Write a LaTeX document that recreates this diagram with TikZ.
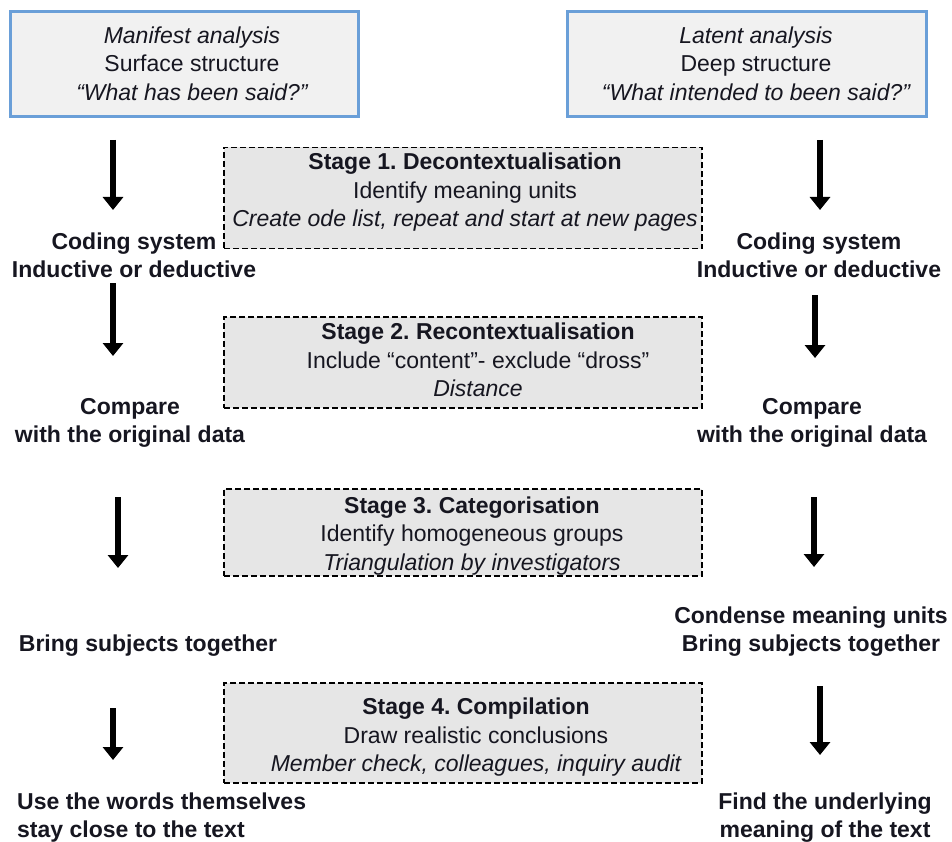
\documentclass[tikz,border=0pt]{standalone}
\usepackage{fontspec}
\setmainfont{Liberation Sans}
\usetikzlibrary{arrows.meta}
\definecolor{boxblue}{HTML}{6A9FD8}
\definecolor{topfill}{HTML}{F1F1F1}
\definecolor{stagefill}{HTML}{E6E6E6}
\definecolor{inkcol}{HTML}{161620}
\frenchspacing
\begin{document}
\begin{tikzpicture}[x=1pt,y=-1pt,
  topbox/.style={draw=boxblue,line width=3pt,fill=topfill,inner sep=0pt,minimum height=105pt},
  stagebox/.style={draw=black,line width=1.1pt,dash pattern=on 6pt off 3pt,fill=stagefill,inner sep=0pt,minimum width=478pt},
  plaintext/.style={align=center,font=\fontsize{23}{28.5}\selectfont,text=inkcol,inner sep=0pt},
  boldtext/.style={align=center,font=\fontsize{23}{28}\selectfont\bfseries,text=inkcol,inner sep=0pt},
  arr/.style={line width=5.5pt,draw=black,-{Triangle[width=20pt,length=13pt]}}]
\useasboundingbox (0,0) rectangle (952,842);

% top boxes
\node[topbox,minimum width=348pt] (topL) at (184,64.5) {};
\node[plaintext] (topLt) at (192,63.5) {\itshape Manifest analysis\\Surface structure\\\itshape “What has been said?”};
\node[topbox,minimum width=359pt] (topR) at (746.5,64.5) {};
\node[plaintext] (topRt) at (756,63.5) {\itshape Latent analysis\\Deep structure\\\itshape “What intended to been said?”};

% stage boxes
\node[stagebox,minimum height=101pt] (s1) at (463,198) {};
\node[plaintext] (s1t) at (465,192.5) {\bfseries Stage 1. Decontextualisation\\Identify meaning units\\\itshape Create ode list, repeat and start at new pages};
\node[stagebox,minimum height=91pt] (s2) at (463,362.5) {};
\node[plaintext] (s2t) at (478,360) {\bfseries Stage 2. Recontextualisation\\Include “content”- exclude “dross”\\\itshape Distance};
\node[stagebox,minimum height=87pt] (s3) at (463,532.5) {};
\node[plaintext] (s3t) at (472,536) {\bfseries Stage 3. Categorisation\\Identify homogeneous groups\\\itshape Triangulation by investigators};
\node[stagebox,minimum height=100pt] (s4) at (463,733) {};
\node[plaintext] (s4t) at (476,737.5) {\bfseries Stage 4. Compilation\\Draw realistic conclusions\\\itshape Member check, colleagues, inquiry audit};

% left column
\node[boldtext] (l1) at (134,255) {Coding system\\Inductive or deductive};
\node[boldtext] (l2) at (130,423) {Compare\\with the original data};
\node[boldtext] (l3) at (148,645.5) {Bring subjects together};
\node[boldtext,align=left,anchor=west] (l4) at (17,818) {Use the words themselves\\stay close to the text};

% right column
\node[boldtext] (r1) at (819,255) {Coding system\\Inductive or deductive};
\node[boldtext] (r2) at (812,423) {Compare\\with the original data};
\node[boldtext] (r3) at (811,631.5) {Condense meaning units\\Bring subjects together};
\node[boldtext] (r4) at (825,818) {Find the underlying\\meaning of the text};

% arrow coordinates
\coordinate (la1s) at (113,140); \coordinate (la1e) at (113,210);
\coordinate (la2s) at (113,283); \coordinate (la2e) at (113,356);
\coordinate (la3s) at (118,497); \coordinate (la3e) at (118,568);
\coordinate (la4s) at (113,708); \coordinate (la4e) at (113,760);
\coordinate (ra1s) at (820,140); \coordinate (ra1e) at (820,210);
\coordinate (ra2s) at (815,295); \coordinate (ra2e) at (815,358);
\coordinate (ra3s) at (814,497); \coordinate (ra3e) at (814,567);
\coordinate (ra4s) at (820,686); \coordinate (ra4e) at (820,755);

\draw[arr] (la1s) -- (la1e);
\draw[arr] (la2s) -- (la2e);
\draw[arr] (la3s) -- (la3e);
\draw[arr] (la4s) -- (la4e);
\draw[arr] (ra1s) -- (ra1e);
\draw[arr] (ra2s) -- (ra2e);
\draw[arr] (ra3s) -- (ra3e);
\draw[arr] (ra4s) -- (ra4e);
\end{tikzpicture}
\end{document}
